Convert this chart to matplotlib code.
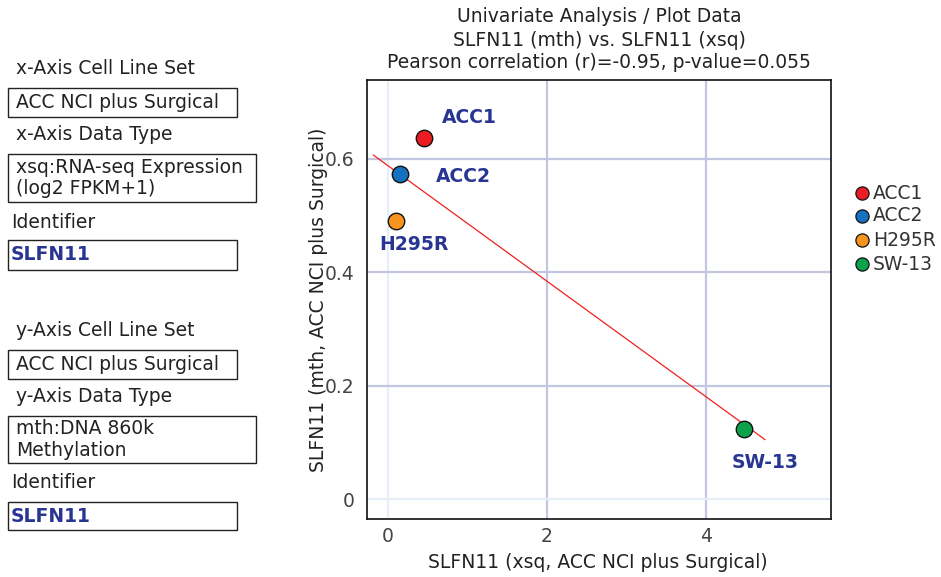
import matplotlib
matplotlib.use("Agg")
import matplotlib.pyplot as plt
from matplotlib.patches import Rectangle
import numpy as np

# ---- data ----
cell_lines = ["ACC1", "ACC2", "H295R", "SW-13"]
x_vals = [0.45, 0.16, 0.10, 4.48]
y_vals = [0.637, 0.573, 0.490, 0.124]
colors = ["#ec1c24", "#1570be", "#f7941d", "#0ca14b"]
label_offsets = [(33, 15), (45, -2), (13, -17), (15, -24)]  # points

x_ticks = [0, 2, 4]
y_ticks = [0, 0.2, 0.4, 0.6]
y_tick_labels = ["0", "0.2", "0.4", "0.6"]

title_lines = ["Univariate Analysis / Plot Data",
               "SLFN11 (mth) vs. SLFN11 (xsq)",
               "Pearson correlation (r)=-0.95, p-value=0.055"]
xlabel = "SLFN11 (xsq, ACC NCI plus Surgical)"
ylabel = "SLFN11 (mth, ACC NCI plus Surgical)"

panel_labels = ["x-Axis Cell Line Set", "x-Axis Data Type", "Identifier",
                "y-Axis Cell Line Set", "y-Axis Data Type", "Identifier"]
panel_values = ["ACC NCI plus Surgical", "xsq:RNA-seq Expression\n(log2 FPKM+1)", "SLFN11",
                "ACC NCI plus Surgical", "mth:DNA 860k\nMethylation", "SLFN11"]

plt.rcParams['font.family'] = ['DejaVu Sans']
FS = 13.5
W, H = 941, 577
fig = plt.figure(figsize=(W / 100, H / 100), dpi=100)

# axes in pixel coords
L, R, T, B = 367, 831, 80, 519
ax = fig.add_axes([L / W, 1 - B / H, (R - L) / W, (B - T) / H])
ax.set_xlim(-0.26, 5.57)
ax.set_ylim(-0.035, 0.739)

for sp in ax.spines.values():
    sp.set_color("#111111")
    sp.set_linewidth(1.2)

# grid
for xt in x_ticks:
    c = "#e6eef8" if xt == 0 else "#c3c6e2"
    ax.axvline(xt, color=c, lw=1.6, zorder=0)
for yt in y_ticks:
    c = "#e6eef8" if yt == 0 else "#c3c6e2"
    ax.axhline(yt, color=c, lw=1.6, zorder=0)

ax.set_xticks(x_ticks)
ax.set_yticks(y_ticks)
ax.set_yticklabels(y_tick_labels)
ax.tick_params(length=0, labelsize=FS, colors="#444444")
ax.tick_params(axis="x", pad=6)
ax.tick_params(axis="y", pad=9)

# regression line
xa = np.array(x_vals)
ya = np.array(y_vals)
slope, intercept = np.polyfit(xa, ya, 1)
lx = np.array([xa.min() - 0.28, xa.max() + 0.26])
ax.plot(lx, slope * lx + intercept, color="#f02020", lw=0.9, zorder=2)

for xv, yv, c, name, off in zip(x_vals, y_vals, colors, cell_lines, label_offsets):
    ax.scatter([xv], [yv], s=140, color=c, edgecolor="#111111", linewidth=1.0, zorder=3)
    ax.annotate(name, (xv, yv), xytext=off, textcoords="offset points",
                ha="center", va="center", fontsize=FS, fontweight="bold",
                color="#283593", zorder=4)

ax.set_xlabel(xlabel, fontsize=FS, color="#222222", va="center")
ax.set_ylabel(ylabel, fontsize=FS, color="#222222", va="center")
ax.xaxis.set_label_coords((598 - L) / (R - L), -(563 - B) / (B - T))
ax.yaxis.set_label_coords(-(L - 318) / (R - L), 0.5)

# title
for i, line in enumerate(title_lines):
    fig.text((L + R) / 2 / W, 1 - (17 + 23 * i) / H, line, ha="center", va="center",
             fontsize=FS, color="#222222")

# legend
leg_y = [193, 216, 240, 264]
for name, c, yy in zip(cell_lines, colors, leg_y):
    fig.lines.append(plt.Line2D([862 / W], [1 - yy / H], marker="o", markersize=9.5,
                                markerfacecolor=c, markeredgecolor="#111111",
                                markeredgewidth=0.9, linestyle="none",
                                transform=fig.transFigure))
    fig.text(873 / W, 1 - yy / H, name, ha="left", va="center", fontsize=FS, color="#333333")

# left panel
label_y = [68, 135, 222, 330, 397, 483]
label_x = [16, 16, 11, 16, 16, 11]
boxes = [(88, 117, 237), (154, 202, 256), (240, 270, 237),
         (350, 379, 237), (416, 463, 256), (502, 530, 237)]
for i, (lab, val) in enumerate(zip(panel_labels, panel_values)):
    fig.text(label_x[i] / W, 1 - label_y[i] / H, lab, ha="left", va="center",
             fontsize=FS, color="#222222")
    top, bot, right = boxes[i]
    fig.patches.append(Rectangle((8 / W, 1 - bot / H), (right - 8) / W, (bot - top) / H,
                                 transform=fig.transFigure, fill=False,
                                 edgecolor="#222222", lw=1.0))
    bold = val == "SLFN11"
    fig.text((16 if not bold else 11) / W, 1 - ((top + bot) / 2) / H, val, ha="left",
             va="center", fontsize=FS, linespacing=1.15,
             color="#283593" if bold else "#222222",
             fontweight="bold" if bold else "normal")

fig.savefig("out.png", dpi=100)
